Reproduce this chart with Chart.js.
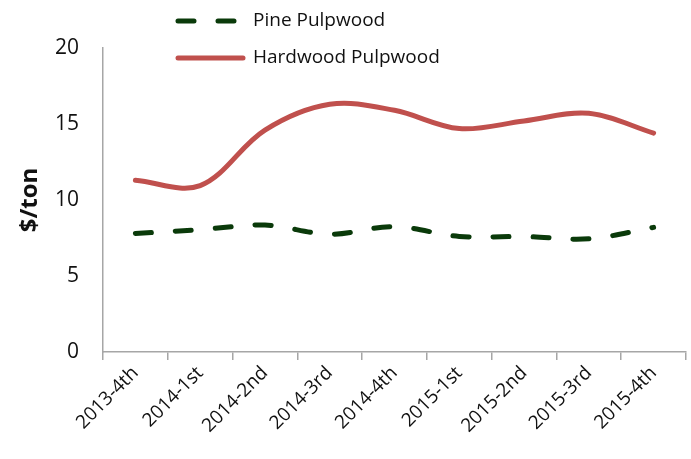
<!DOCTYPE html>
<html>
<head>
<meta charset="utf-8">
<script src="https://cdn.jsdelivr.net/npm/chart.js@4"></script>
<style>
  html, body { margin: 0; padding: 0; background: #fff; }
  #wrap { width: 691px; height: 459px; position: relative; }
</style>
</head>
<body>
<div id="wrap"><canvas id="myChart"></canvas></div>
<script>
const quarters = ['2013-4th', '2014-1st', '2014-2nd', '2014-3rd', '2014-4th', '2015-1st', '2015-2nd', '2015-3rd', '2015-4th'];
const pineValues = [7.8, 8.05, 8.35, 7.75, 8.25, 7.6, 7.6, 7.45, 8.2];
const hardwoodValues = [11.3, 10.95, 14.6, 16.3, 15.9, 14.7, 15.2, 15.7, 14.4];
const yTicks = [0, 5, 10, 15, 20];

const axisGray = '#A6A6A6';
const font = "'Open Sans', 'Liberation Sans', sans-serif";

// legend drawn by hand, stacked like the original
const stackedLegend = {
    id: 'stackedLegend',
    afterDraw(chart) {
        const ctx = chart.ctx;
        const rows = [21, 58];
        chart.data.datasets.forEach((ds, i) => {
            const y = rows[i];
            ctx.save();
            ctx.strokeStyle = ds.borderColor;
            ctx.lineWidth = ds.borderWidth;
            ctx.lineCap = 'round';
            ctx.setLineDash(ds.borderDash || []);
            ctx.beginPath();
            ctx.moveTo(178, y);
            ctx.lineTo(243, y);
            ctx.stroke();
            ctx.setLineDash([]);
            ctx.fillStyle = '#111';
            ctx.font = '19px ' + font;
            ctx.textBaseline = 'middle';
            ctx.fillText(ds.label, 253, y);
            ctx.restore();
        });
    }
};

const ctx = document.getElementById('myChart');

new Chart(ctx, {
    type: 'line',
    data: {
        labels: quarters,
        datasets: [{
            label: 'Pine Pulpwood',
            data: pineValues,
            borderColor: '#0A3A0A',
            borderWidth: 5,
            borderDash: [16, 24],
            borderCapStyle: 'round',
            pointRadius: 0,
            tension: 0.35,
            fill: false
        }, {
            label: 'Hardwood Pulpwood',
            data: hardwoodValues,
            borderColor: '#C0504D',
            borderWidth: 5,
            borderCapStyle: 'round',
            pointRadius: 0,
            tension: 0.35,
            fill: false
        }]
    },
    options: {
        responsive: true,
        maintainAspectRatio: false,
        animation: false,
        layout: { padding: { top: 48, right: 5, left: 0, bottom: 0 } },
        plugins: {
            legend: { display: false },
            tooltip: { enabled: false }
        },
        scales: {
            x: {
                offset: true,
                grid: {
                    offset: true,
                    drawOnChartArea: false,
                    color: axisGray,
                    tickLength: 8,
                    lineWidth: 1.5
                },
                border: { color: axisGray, width: 1.5 },
                ticks: {
                    color: '#111',
                    font: { family: font, size: 19 },
                    minRotation: 45,
                    maxRotation: 45,
                    padding: 2
                },
                afterFit(scale) { scale.height = 107; }
            },
            y: {
                min: 0,
                max: 20,
                afterBuildTicks(scale) {
                    scale.ticks = yTicks.map(v => ({ value: v }));
                },
                grid: { drawOnChartArea: false, drawTicks: false },
                border: { color: axisGray, width: 1.5 },
                ticks: {
                    color: '#111',
                    font: { family: font, size: 21 },
                    padding: 24
                },
                title: {
                    display: true,
                    text: '$/ton',
                    color: '#111',
                    font: { family: font, size: 24, weight: 'bold' },
                    padding: { top: 16, bottom: 0 }
                },
                afterFit(scale) { scale.width = 103; }
            }
        }
    },
    plugins: [stackedLegend]
});
</script>
</body>
</html>
